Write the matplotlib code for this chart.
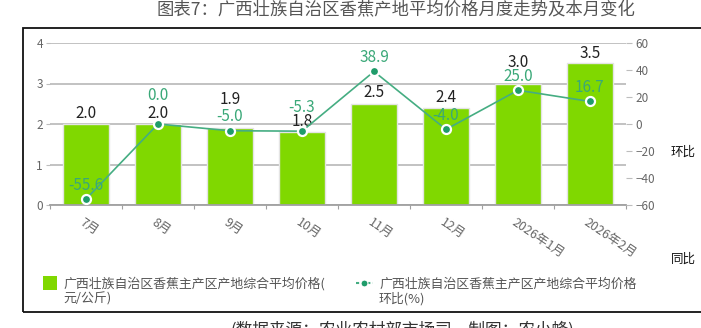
import matplotlib
matplotlib.use('Agg')
import matplotlib.pyplot as plt
from matplotlib.patches import Rectangle
from matplotlib.lines import Line2D

plt.rcParams['font.family'] = ['Noto Sans CJK SC', 'DejaVu Sans']

months = ['7月', '8月', '9月', '10月', '11月', '12月', '2026年1月', '2026年2月']
price = [2.0, 2.0, 1.9, 1.8, 2.5, 2.4, 3.0, 3.5]          # 元/公斤
mom = [-55.6, 0.0, -5.0, -5.3, 38.9, -4.0, 25.0, 16.7]      # 环比 %

# label offsets (px) so overlapping labels are pushed apart
price_dy = [11, 10, 29, 11, 11, 10, 21, 10]
mom_dy = [14, 29, 14, 24, 14, 14, 14, 14]

W, H = 701, 328
fig = plt.figure(figsize=(W / 100, H / 100), dpi=100)

def px(x, y):
    return x / W, 1 - y / H

GRID = '#bdbdbd'
TICK = '#666666'
BAR = '#80d800'
LINE = '#45ad82'
DOT = '#1f9c6a'
LBL_G = '#3aa878'

# outer frame
fig.patches.append(Rectangle(px(23, 312), (740 - 23) / W, (312 - 28) / H,
                             transform=fig.transFigure, fill=False,
                             edgecolor='#111111', linewidth=1.3))

x0, x1, ytop, ybot = 50, 626, 43, 205
ax = fig.add_axes([x0 / W, 1 - ybot / H, (x1 - x0) / W, (ybot - ytop) / H])
idx = list(range(len(months)))

ax.bar(idx, price, width=0.65, color=BAR, edgecolor='#e4e4e4', linewidth=1, zorder=2)
ax.set_xlim(-0.5, len(months) - 0.5)
ax.set_ylim(0, 4)
ax.set_yticks([0, 1, 2, 3, 4])
ax.yaxis.grid(True, color=GRID, linewidth=1.3, zorder=0)
ax.set_axisbelow(True)
for s in ['top', 'right', 'left']:
    ax.spines[s].set_visible(False)
ax.spines['bottom'].set_color('#a0a0a0')
ax.spines['bottom'].set_linewidth(1.3)
ax.tick_params(axis='y', length=3, color=GRID, labelcolor=TICK, labelsize=8.5, pad=2)
ax.set_xticks([i - 0.5 for i in idx] + [len(months) - 0.5], minor=False)
ax.set_xticklabels([])
ax.tick_params(axis='x', length=3, color='#a0a0a0')

for i, m in enumerate(months):
    ax.annotate(m, (i, 0), xytext=(-1, -8), textcoords='offset points',
                rotation=-34, rotation_mode='anchor', ha='left', va='top',
                fontsize=9, color=TICK)

for i, v in enumerate(price):
    ax.annotate(f'{v:.1f}', (i, v), xytext=(0, price_dy[i] * 0.72),
                textcoords='offset points', ha='center', va='center',
                fontsize=11, color='#222222', zorder=5)

ax2 = ax.twinx()
ax2.plot(idx, mom, color=LINE, linewidth=1.2, marker='o', markersize=6.5,
         markerfacecolor=DOT, markeredgecolor='white', markeredgewidth=1.6, zorder=4)
ax2.set_ylim(-60, 60)
ax2.set_yticks(range(-60, 61, 20))
for s in ['top', 'right', 'left', 'bottom']:
    ax2.spines[s].set_visible(False)
ax2.tick_params(axis='y', length=4, color=GRID, labelcolor=TICK, labelsize=8.5, pad=3)

for i, v in enumerate(mom):
    ax2.annotate(f'{v:.1f}', (i, v), xytext=(0, mom_dy[i] * 0.72),
                 textcoords='offset points', ha='center', va='center',
                 fontsize=11, color=LBL_G, zorder=6)

# right-hand axis names
fig.text(*px(671, 152), '环比', fontsize=9, color='#111111', va='center', ha='left')
fig.text(*px(671, 259), '同比', fontsize=9, color='#111111', va='center', ha='left')

# title
fig.text(*px(396, 10), '图表7：广西壮族自治区香蕉产地平均价格月度走势及本月变化',
         fontsize=12.5, color='#555555', ha='center', va='center')

# legend
fig.patches.append(Rectangle(px(43, 290), 14 / W, 14 / H, transform=fig.transFigure,
                             facecolor=BAR, edgecolor='none'))
fig.text(*px(63, 291.5), '广西壮族自治区香蕉主产区产地综合平均价格(\n元/公斤)',
         fontsize=9.3, color='#555555', ha='left', va='center', linespacing=1.15)
fig.lines.append(Line2D([356 / W, 373 / W], [1 - 283 / H] * 2, transform=fig.transFigure,
                        color=LINE, linewidth=1.5, linestyle=(0, (1.5, 1.2))))
fig.lines.append(Line2D([364.5 / W], [1 - 283 / H], transform=fig.transFigure,
                        marker='o', markersize=5, color=DOT, markeredgecolor='white',
                        markeredgewidth=0.8))
fig.text(*px(379, 291.5), '广西壮族自治区香蕉主产区产地综合平均价格\n环比(%)',
         fontsize=9.3, color='#555555', ha='left', va='center', linespacing=1.15)

# source note
fig.text(*px(230, 330), '(数据来源：农业农村部市场司，制图：农小蜂)',
         fontsize=12, color='#333333', ha='left', va='center')

fig.savefig('out.png', dpi=100)
